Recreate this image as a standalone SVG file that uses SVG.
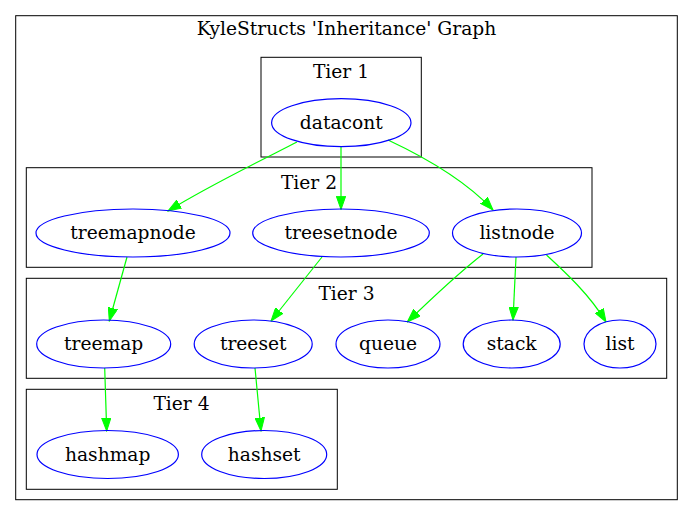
<svg xmlns="http://www.w3.org/2000/svg" width="693" height="516" viewBox="0 0 693 516">
<style>
text{font-family:"DejaVu Serif","Liberation Serif",serif;font-size:18.67px;fill:#000;text-anchor:middle}
.cl{fill:none;stroke:#000;stroke-width:1}
.nd{fill:none;stroke:#0000ff;stroke-width:1.2}
.ed{fill:none;stroke:#00ff00;stroke-width:1.2}
</style>
<defs>
<marker id="ah" markerUnits="userSpaceOnUse" markerWidth="14" markerHeight="10" viewBox="0 0 14 10" refX="13.3" refY="5" orient="auto">
<polygon points="0,0.3 13.3,5 0,9.7" fill="#00ff00" stroke="#00ff00" stroke-width="1"/>
</marker>
</defs>
<rect width="693" height="516" fill="#fff"/>
<g id="clusters">
<rect class="cl" x="15.7" y="15.7" width="661.6" height="484"/>
<text x="346.5" y="35">KyleStructs 'Inheritance' Graph</text>
<rect class="cl" x="261" y="57.3" width="160.3" height="99.7"/>
<text x="341" y="78">Tier 1</text>
<rect class="cl" x="26.3" y="167.7" width="565.7" height="99.6"/>
<text x="309" y="188.5">Tier 2</text>
<rect class="cl" x="26.3" y="278.3" width="640.4" height="100"/>
<text x="346.5" y="299.5">Tier 3</text>
<rect class="cl" x="26.3" y="389.3" width="311" height="100"/>
<text x="181.5" y="410">Tier 4</text>
</g>
<g id="connectors">
<path class="ed" marker-end="url(#ah)" d="M297,142 C270,156 210,185 168,211"/>
<path class="ed" marker-end="url(#ah)" d="M341,147 L341,209.5"/>
<path class="ed" marker-end="url(#ah)" d="M388,140 C420,155 465,180 493,210"/>
<path class="ed" marker-end="url(#ah)" d="M127,257 L109.3,321"/>
<path class="ed" marker-end="url(#ah)" d="M322,257 L271,321"/>
<path class="ed" marker-end="url(#ah)" d="M483,254 C460,272 430,300 407.3,322"/>
<path class="ed" marker-end="url(#ah)" d="M516,257 L513,320"/>
<path class="ed" marker-end="url(#ah)" d="M546.5,255 C565,272 590,295 606,322"/>
<path class="ed" marker-end="url(#ah)" d="M104.7,368 L106.7,431"/>
<path class="ed" marker-end="url(#ah)" d="M255,368 L261,431"/>
</g>
<g id="datacont"><ellipse class="nd" cx="341.3" cy="122.7" rx="69.7" ry="24"/><text x="341.3" y="128.5">datacont</text></g>
<g id="treemapnode"><ellipse class="nd" cx="133" cy="233" rx="97" ry="24"/><text x="133" y="239">treemapnode</text></g>
<g id="treesetnode"><ellipse class="nd" cx="341" cy="233" rx="88.3" ry="24"/><text x="341" y="239">treesetnode</text></g>
<g id="listnode"><ellipse class="nd" cx="517" cy="233" rx="64.5" ry="24"/><text x="517" y="239">listnode</text></g>
<g id="treemap"><ellipse class="nd" cx="103.7" cy="344" rx="67" ry="24"/><text x="103.7" y="350">treemap</text></g>
<g id="treeset"><ellipse class="nd" cx="253.2" cy="344" rx="59" ry="24"/><text x="253.2" y="350">treeset</text></g>
<g id="queue"><ellipse class="nd" cx="388" cy="344" rx="52" ry="24"/><text x="388" y="350">queue</text></g>
<g id="stack"><ellipse class="nd" cx="511.7" cy="344" rx="48.5" ry="24"/><text x="511.7" y="350">stack</text></g>
<g id="list"><ellipse class="nd" cx="620" cy="344" rx="36" ry="24"/><text x="620" y="350">list</text></g>
<g id="hashmap"><ellipse class="nd" cx="107.7" cy="454.5" rx="70.7" ry="24"/><text x="107.7" y="460.5">hashmap</text></g>
<g id="hashset"><ellipse class="nd" cx="264.2" cy="454.5" rx="62.5" ry="24"/><text x="264.2" y="460.5">hashset</text></g>
</svg>
